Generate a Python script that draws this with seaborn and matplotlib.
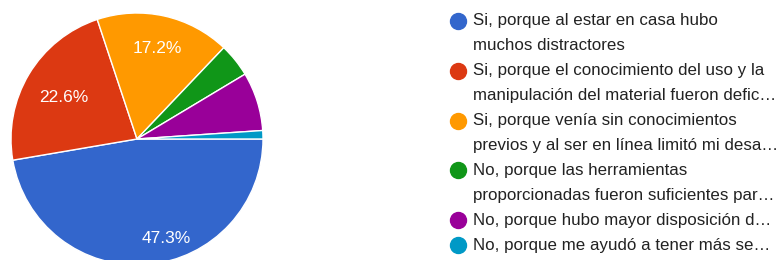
import matplotlib
matplotlib.use("Agg")
import matplotlib.pyplot as plt
import seaborn as sns

sns.set_theme(style="white")
plt.rcParams['font.family'] = ['Liberation Sans', 'DejaVu Sans']

labels = [
    "Si, porque al estar en casa hubo\nmuchos distractores",
    "Si, porque el conocimiento del uso y la\nmanipulación del material fueron defic…",
    "Si, porque venía sin conocimientos\nprevios y al ser en línea limitó mi desa…",
    "No, porque las herramientas\nproporcionadas fueron suficientes par…",
    "No, porque hubo mayor disposición d…",
    "No, porque me ayudó a tener más se…",
]
counts = [44, 21, 16, 4, 7, 1]
colors = ["#3366cc", "#dc3912", "#ff9900", "#109618", "#990099", "#0099c6"]

W, H = 780, 260
fig = plt.figure(figsize=(W / 100, H / 100), dpi=100)
fig.patch.set_facecolor("white")

cx, cy, r = 137, 139, 126
ax = fig.add_axes([(cx - r) / W, (H - cy - r) / H, 2 * r / W, 2 * r / H])
ax.set_axis_off()

def fmt(p):
    return f"{p:.1f}%" if p > 10 else ""

wedges, texts, autotexts = ax.pie(
    counts, colors=colors, startangle=0, counterclock=False,
    autopct=fmt, pctdistance=0.72,
    wedgeprops=dict(edgecolor="white", linewidth=1.0),
    textprops=dict(color="white", fontsize=12.5),
)
ax.set_xlim(-1, 1)
ax.set_ylim(-1, 1)
ax.set_aspect("equal")
# Google-style label placement
autotexts[0].set_position((0.23, -0.79))
autotexts[1].set_position((-0.58, 0.33))
autotexts[2].set_position((0.16, 0.72))

# Legend
x_dot, x_text = 458, 473
y0, step = 21, 24.9
line = 0
for lab, col in zip(labels, colors):
    y = y0 + line * step
    fig.add_artist(plt.Line2D([x_dot / W], [1 - y / H], marker="o", markersize=11.5,
                              color=col, linestyle="none", transform=fig.transFigure))
    for k, part in enumerate(lab.split("\n")):
        fig.text(x_text / W, 1 - (y + k * step) / H, part, ha="left", va="center",
                 fontsize=12.2, color="#222222")
    line += len(lab.split("\n"))

fig.savefig("out.png", dpi=100, facecolor="white")
